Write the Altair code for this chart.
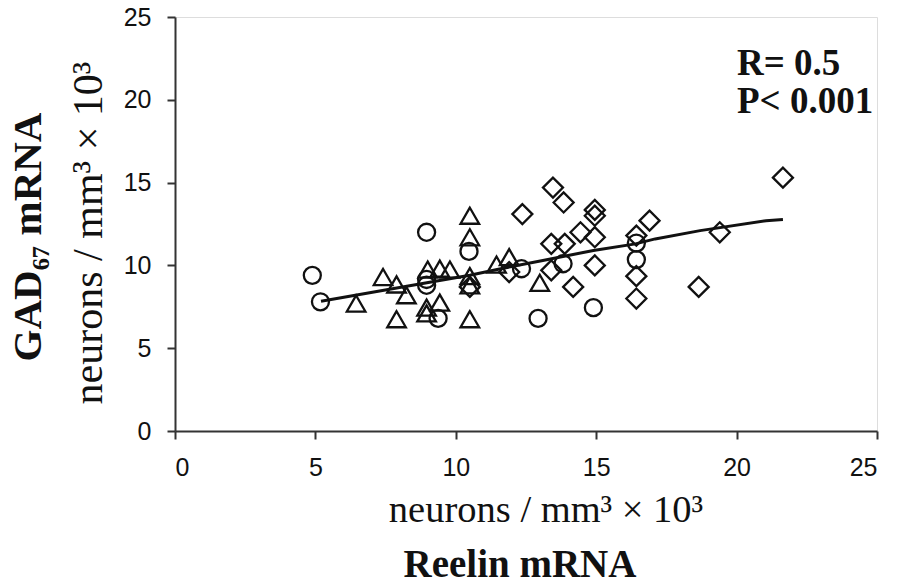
import altair as alt
import pandas as pd

# --- data ---
circle_x = [4.89, 5.18, 8.96, 10.47, 8.96, 8.96, 9.37, 12.34, 13.82, 12.93, 14.9, 16.43, 16.43]
circle_y = [9.4, 7.8, 12.0, 10.85, 9.15, 8.8, 6.8, 9.8, 10.1, 6.8, 7.45, 11.35, 10.35]

tri_x = [6.45, 7.41, 7.89, 8.24, 7.89, 9.0, 9.43, 9.79, 8.96, 9.43, 8.96,
         10.5, 10.5, 10.5, 10.5, 10.5, 11.45, 11.9, 12.99]
tri_y = [7.7, 9.3, 8.85, 8.2, 6.75, 9.75, 9.8, 9.75, 7.45, 7.75, 7.1,
         13.0, 11.7, 9.35, 8.8, 6.75, 10.05, 10.5, 8.95]

dia_x = [10.5, 11.9, 12.37, 13.46, 13.84, 14.95, 14.95, 14.44, 14.95, 13.4, 13.88,
         14.95, 13.4, 14.18, 16.43, 16.43, 16.43, 16.9, 19.4, 18.65, 21.65]
dia_y = [8.7, 9.6, 13.1, 14.7, 13.8, 13.35, 13.0, 12.0, 11.7, 11.3, 11.3,
         10.0, 9.7, 8.7, 11.8, 9.35, 8.0, 12.7, 12.0, 8.7, 15.3]

fit_x = [5.2, 8.1, 10.5, 11.6, 13.1, 14.9, 16.4, 17.1, 18.7, 21.05, 21.65]
fit_y = [7.83, 8.7, 9.4, 9.8, 10.3, 10.9, 11.3, 11.6, 12.1, 12.7, 12.77]

x_ticks = [0, 5, 10, 15, 20, 25]
y_ticks = [0, 5, 10, 15, 20, 25]

stat_r = "R= 0.5"
stat_p = "P< 0.001"
y_title_bold = "GAD\u2086\u2087 mRNA"
unit_title = "neurons / mm\u00b3 \u00d7 10\u00b3"
x_title_bold = "Reelin mRNA"

pts = pd.concat([
    pd.DataFrame({"x": circle_x, "y": circle_y, "g": "circle"}),
    pd.DataFrame({"x": tri_x, "y": tri_y, "g": "triangle"}),
    pd.DataFrame({"x": dia_x, "y": dia_y, "g": "diamond"}),
])
fit = pd.DataFrame({"x": fit_x, "y": fit_y})

xs = alt.Scale(domain=[0, 25], nice=False, zero=False)
ys = alt.Scale(domain=[0, 25], nice=False, zero=False)

axis_style = dict(title=None, grid=False, tickSize=8, labelPadding=16,
                  labelFont="Liberation Sans", labelFontSize=25, labelColor="#111",
                  domainColor="#333", domainWidth=2, tickColor="#333", tickWidth=2)
xaxis = alt.Axis(values=x_ticks, **axis_style)
yaxis = alt.Axis(values=y_ticks, **axis_style)

points = alt.Chart(pts).mark_point(filled=False, strokeWidth=2.3, color="#111", opacity=1).encode(
    x=alt.X("x:Q", scale=xs, axis=xaxis),
    y=alt.Y("y:Q", scale=ys, axis=yaxis),
    shape=alt.Shape("g:N", scale=alt.Scale(domain=["circle", "triangle", "diamond"],
                                            range=["circle", "triangle-up", "diamond"]),
                    legend=None),
    size=alt.Size("g:N", scale=alt.Scale(domain=["circle", "triangle", "diamond"],
                                          range=[290, 400, 400]), legend=None),
)

line = alt.Chart(fit).mark_line(color="#111", strokeWidth=3).encode(
    x=alt.X("x:Q", scale=xs, axis=xaxis), y=alt.Y("y:Q", scale=ys, axis=yaxis))


def label(txt, x, y, bold, size, angle=0, align="center", baseline="alphabetic"):
    kw = dict(font="Liberation Serif", fontSize=size, align=align,
              baseline=baseline, color="#111")
    if bold:
        kw["fontWeight"] = "bold"
    if angle:
        kw["angle"] = angle
    return alt.Chart(pd.DataFrame({"t": [txt]})).mark_text(**kw).encode(
        text="t:N", x=alt.value(x), y=alt.value(y))


s1 = label(stat_r, 562, 58, True, 37, align="left")
s2 = label(stat_p, 562, 96, True, 37, align="left")
t1 = label(y_title_bold, -146, 220, True, 41, angle=270, baseline="middle")
t2 = label(unit_title, -86, 216, False, 42, angle=270, baseline="middle")
t3 = label(unit_title, 371, 505, False, 38.5)
t4 = label(x_title_bold, 345, 560, True, 39)

chart = alt.layer(line, points, s1, s2, t1, t2, t3, t4).properties(
    width=702, height=414,
    autosize=alt.AutoSizeParams(type="none"),
    padding={"left": 167, "top": 9, "right": 17, "bottom": 149},
).configure_view(stroke=None).configure(background="white")

chart.save("out.html", embed_options={"renderer": "svg", "actions": False})
